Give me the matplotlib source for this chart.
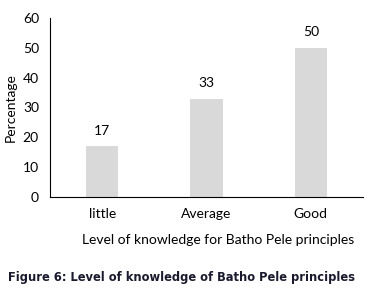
import numpy as np
import matplotlib.pyplot as plt

levels = ['little', 'Average', 'Good']
percent = [17, 33, 50]

fig = plt.figure(figsize=(3.74, 2.95), dpi=100)
ax = fig.add_axes([50/374, 1-197/295, 313/374, 179/295])

x = np.arange(len(levels))
bars = ax.bar(x, percent, width=0.31, color='#d9d9d9')
for xi, v in zip(x, percent):
    ax.annotate(str(v), (xi, v), xytext=(0, 7), textcoords='offset points',
                ha='center', va='bottom', fontsize=10, family='Lato')

ax.set_xlim(-0.5, 2.5)
ax.set_ylim(0, 60)
ax.set_yticks(range(0, 61, 10))
ax.set_xticks(x)
ax.set_xticklabels(levels, family='Lato', fontsize=10)
for lab in ax.get_yticklabels():
    lab.set_family('Lato')
    lab.set_fontsize(10)
ax.tick_params(length=0, pad=8)
ax.tick_params(axis='x', pad=8)
ax.spines['top'].set_visible(False)
ax.spines['right'].set_visible(False)
ax.set_ylabel('Percentage', family='Lato', fontsize=10, labelpad=4)
ax.set_xlabel('Level of knowledge for Batho Pele principles', family='Lato', fontsize=10,
              labelpad=10, x=0.537)

fig.text(8/374, 1-278/295, 'Figure 6: Level of knowledge of Batho Pele principles',
         fontsize=8.3, fontweight='bold', color='#1a1a2e', va='center', ha='left')

fig.savefig('out.png', dpi=100)
